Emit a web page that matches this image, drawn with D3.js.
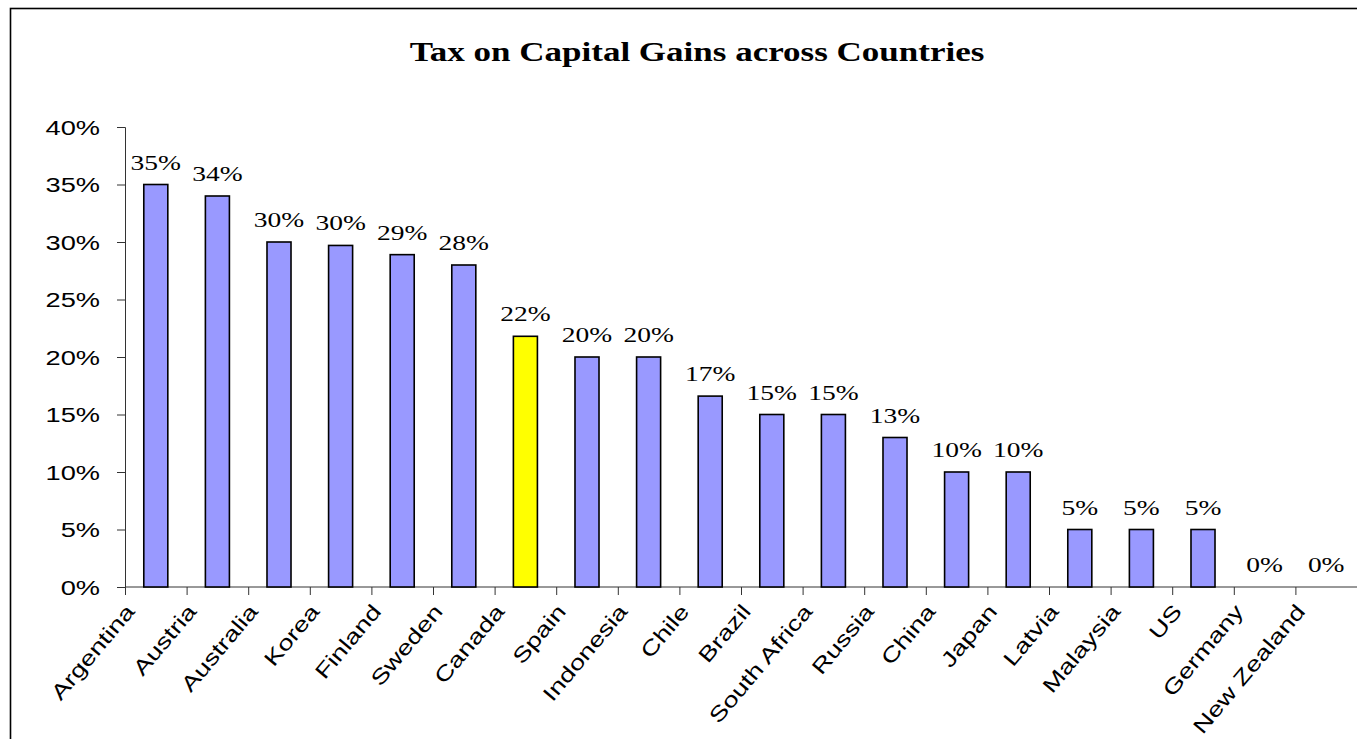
<!DOCTYPE html>
<html>
<head>
<meta charset="utf-8">
<script src="https://cdn.jsdelivr.net/npm/d3@7"></script>
<style>
  html, body { margin: 0; padding: 0; background: #fff; }
  svg { display: block; }
</style>
</head>
<body>
<svg id="chart" width="1357" height="739"></svg>
<script>
// Capital gains tax rates by country (fraction of gain)
const countries = ["Argentina", "Austria", "Australia", "Korea", "Finland", "Sweden", "Canada",
  "Spain", "Indonesia", "Chile", "Brazil", "South Africa", "Russia", "China", "Japan",
  "Latvia", "Malaysia", "US", "Germany", "New Zealand"];
const rates = [0.35, 0.34, 0.30, 0.297, 0.289, 0.28, 0.218, 0.20, 0.20, 0.166, 0.15, 0.15,
  0.13, 0.10, 0.10, 0.05, 0.05, 0.05, 0, 0];
const highlighted = ["Canada"];
const yTicks = [0, 0.05, 0.10, 0.15, 0.20, 0.25, 0.30, 0.35, 0.40];
const titleText = "Tax on Capital Gains across Countries";

const svg = d3.select("#chart");
const W = 1357, H = 739;
const plot = { left: 125, right: 1357, top: 127, bottom: 587 };

const data = countries.map((c, i) => ({ country: c, rate: rates[i] }));

const x = d3.scaleBand().domain(countries).range([plot.left, plot.right]).padding(0);
const y = d3.scaleLinear().domain([0, 0.40]).range([plot.bottom, plot.top]);
const pct = d3.format(".0%");

// widen glyphs horizontally around each text's own anchor point
function stretch(sel, sx) {
  sel.each(function () {
    const t = d3.select(this);
    const tx = +t.attr("x") || 0, ty = +t.attr("y") || 0;
    const prev = t.attr("transform") || "";
    t.attr("x", 0).attr("y", 0)
     .attr("transform", `${prev} translate(${tx},${ty}) scale(${sx},1)`);
  });
}

// outer frame
svg.append("rect")
  .attr("x", 10.5).attr("y", 8.5)
  .attr("width", W + 20).attr("height", H + 20)
  .attr("fill", "none").attr("stroke", "#000").attr("stroke-width", 1.6);

// title
svg.append("text")
  .attr("x", 697).attr("y", 61)
  .attr("text-anchor", "middle")
  .attr("font-family", "'Liberation Serif', 'Times New Roman', serif")
  .attr("font-weight", "bold")
  .attr("font-size", 28)
  .text(titleText)
  .call(stretch, 1.25);

// y axis
const yAxis = svg.append("g")
  .attr("transform", `translate(${plot.left},0)`)
  .call(d3.axisLeft(y).tickValues(yTicks).tickFormat(pct).tickSize(8).tickPadding(17));
yAxis.select(".domain").attr("stroke", "#333").attr("stroke-width", 1);
yAxis.selectAll(".tick line").attr("stroke", "#333");
yAxis.selectAll(".tick text")
  .attr("font-family", "'Liberation Sans', Arial, sans-serif")
  .attr("font-size", 20)
  .attr("fill", "#000")
  .attr("dy", "0.36em")
  .call(stretch, 1.36);

// x axis baseline with ticks at category boundaries
const xAxis = svg.append("g");
xAxis.append("line")
  .attr("x1", plot.left).attr("x2", plot.right)
  .attr("y1", y(0)).attr("y2", y(0))
  .attr("stroke", "#333").attr("stroke-width", 1);
const boundaries = countries.map(c => x(c)).concat([x(countries[countries.length - 1]) + x.bandwidth()]);
xAxis.selectAll("line.tick")
  .data(boundaries)
  .join("line")
  .attr("class", "tick")
  .attr("x1", d => d + 0.5).attr("x2", d => d + 0.5)
  .attr("y1", y(0)).attr("y2", y(0) + 8)
  .attr("stroke", "#333");

// category labels, rotated
xAxis.selectAll("text.cat")
  .data(countries)
  .join("text")
  .attr("class", "cat")
  .attr("text-anchor", "end")
  .attr("font-family", "'Liberation Sans', Arial, sans-serif")
  .attr("font-size", 21)
  .attr("transform", c => `translate(${x(c) + x.bandwidth() / 2 - 20},${y(0) + 25}) rotate(-50) scale(1.3,1)`)
  .text(c => c);

// bars
const barW = x.bandwidth() * 0.39;
svg.append("g").selectAll("rect")
  .data(data)
  .join("rect")
  .attr("x", d => x(d.country) + (x.bandwidth() - barW) / 2)
  .attr("y", d => y(d.rate))
  .attr("width", barW)
  .attr("height", d => y(0) - y(d.rate))
  .attr("fill", d => highlighted.includes(d.country) ? "#FFFF00" : "#9999FF")
  .attr("stroke", "#000")
  .attr("stroke-width", 1.6);

// value labels above bars
svg.append("g").selectAll("text")
  .data(data)
  .join("text")
  .attr("x", d => x(d.country) + x.bandwidth() / 2)
  .attr("y", d => y(d.rate) - 15)
  .attr("text-anchor", "middle")
  .attr("font-family", "'Liberation Serif', 'Times New Roman', serif")
  .attr("font-size", 22)
  .text(d => pct(d.rate))
  .call(stretch, 1.25);
</script>
</body>
</html>
